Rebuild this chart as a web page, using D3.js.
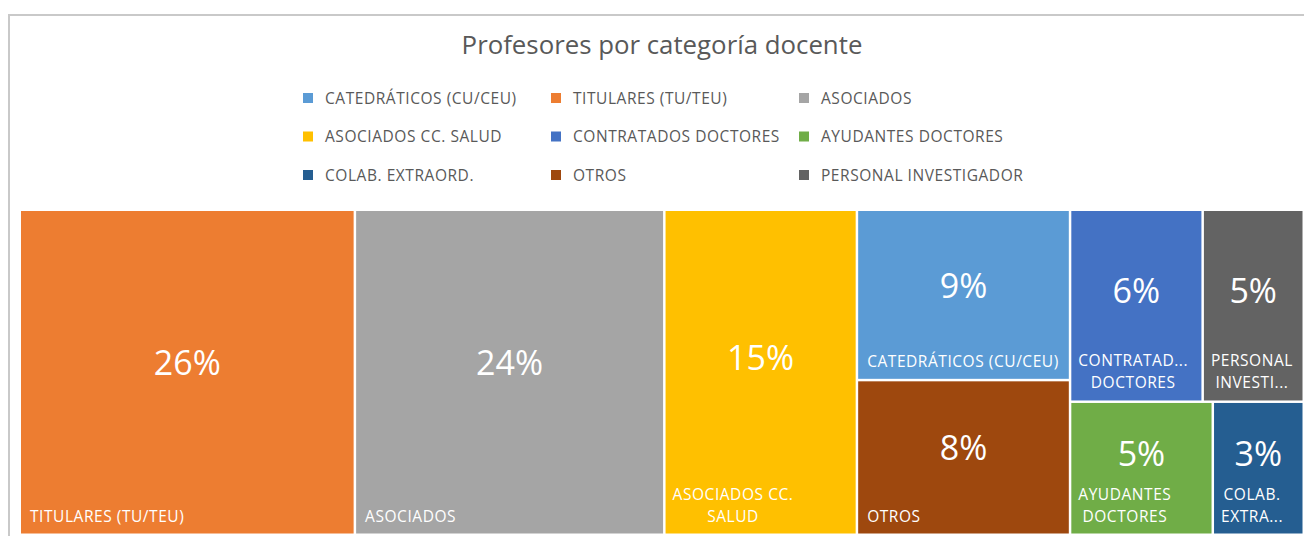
<!DOCTYPE html>
<html>
<head>
<meta charset="utf-8">
<script src="https://cdn.jsdelivr.net/npm/d3@7"></script>
<style>
  body { margin: 0; background: #fff; }
  svg { display: block; font-family: "Open Sans", "Noto Sans", sans-serif; }
</style>
</head>
<body>
<div id="chart"></div>
<script>
// categories in legend order
var categories = ["CATEDRÁTICOS (CU/CEU)", "TITULARES (TU/TEU)", "ASOCIADOS",
  "ASOCIADOS CC. SALUD", "CONTRATADOS DOCTORES", "AYUDANTES DOCTORES",
  "COLAB. EXTRAORD.", "OTROS", "PERSONAL INVESTIGADOR"];
// share of teachers (%)
var shares = [8.7, 26.1, 24.1, 15.0, 6.1, 4.55, 2.9, 7.9, 4.65];
var colors = ["#5B9BD5", "#ED7D31", "#A5A5A5", "#FFC000", "#4472C4",
  "#70AD47", "#255E91", "#9E480E", "#636363"];

var width = 1304;
var height = 536;

var svg = d3.select("#chart")
    .append("svg")
    .attr("width", width)
    .attr("height", height);

// chart area border (only top / left visible)
svg.append("rect")
    .attr("x", 9)
    .attr("y", 15)
    .attr("width", width + 20)
    .attr("height", height + 20)
    .attr("fill", "none")
    .attr("stroke", "#c9c9c9")
    .attr("stroke-width", 2);

svg.append("text")
    .attr("x", 662)
    .attr("y", 54)
    .attr("text-anchor", "middle")
    .attr("fill", "#595959")
    .style("font-size", "25.8px")
    .text("Profesores por categoría docente");

var labelSize = 15.5;
var spacing = "0.55px";

// legend, 3 columns
var legend = svg.append("g").attr("class", "legend");
categories.forEach(function(c, i) {
  var col = i % 3, row = Math.floor(i / 3);
  var g = legend.append("g")
      .attr("transform", `translate(${303 + col * 248}, ${98 + row * 38.5})`);
  g.append("rect")
      .attr("x", 0).attr("y", -5)
      .attr("width", 10).attr("height", 10)
      .attr("fill", colors[i]);
  g.append("text")
      .attr("x", 22)
      .attr("dy", "0.36em")
      .attr("fill", "#595959")
      .style("font-size", labelSize + "px")
      .style("letter-spacing", spacing)
      .text(c);
});

// treemap
var data = {
  name: "root",
  children: categories.map(function(c, i) {
    return {name: c, value: shares[i], color: colors[i]};
  })
};

var root = d3.hierarchy(data)
    .sum(function(d) { return d.value || 0; })
    .sort(function(a, b) { return b.value - a.value; });

var tx = 21, ty = 211;
d3.treemap()
    .tile(d3.treemapSquarify.ratio(1))
    .size([1281.5, 322.5])
    .paddingInner(2.5)
    (root);

var total = root.value;

var cell = svg.append("g").attr("class", "cells")
    .attr("transform", `translate(${tx}, ${ty})`)
  .selectAll("g")
  .data(root.leaves())
  .join("g");

cell.append("rect")
    .attr("x", function(d) { return d.x0; })
    .attr("y", function(d) { return d.y0; })
    .attr("width", function(d) { return d.x1 - d.x0; })
    .attr("height", function(d) { return d.y1 - d.y0; })
    .attr("fill", function(d) { return d.data.color; });

var lineGap = 22;

cell.each(function(d) {
  var g = d3.select(this);
  var avail = d.x1 - d.x0 - 16;

  // measure helper
  var probe = g.append("text").style("font-size", labelSize + "px")
      .style("letter-spacing", spacing);
  function w(s) { probe.text(s); return probe.node().getComputedTextLength(); }
  function clip(s) {
    if (w(s) <= avail) return s;
    while (s.length > 1 && w(s + "...") > avail) s = s.slice(0, -1);
    return s + "...";
  }

  var lines = [];
  var words = d.data.name.split(" ");
  if (w(d.data.name) <= avail) {
    lines = [d.data.name];
  } else {
    var cur = "";
    words.forEach(function(word) {
      var t = cur ? cur + " " + word : word;
      if (cur && w(t) > avail) { lines.push(cur); cur = word; }
      else cur = t;
    });
    if (cur) lines.push(cur);
    if (lines.length > 2) lines = [lines[0], lines.slice(1).join(" ")];
    lines = lines.map(clip);
  }
  var blockW = d3.max(lines, w);
  probe.remove();

  var lastBase = d.y1 - 12;
  var cx = lines.length > 1 ? d.x0 + 7 + blockW / 2 : d.x0 + 9;
  lines.forEach(function(l, i) {
    g.append("text")
        .attr("x", cx)
        .attr("y", lastBase - (lines.length - 1 - i) * lineGap)
        .attr("text-anchor", lines.length > 1 ? "middle" : "start")
        .attr("fill", "#fff")
        .style("font-size", labelSize + "px")
        .style("letter-spacing", spacing)
        .text(l);
  });

  var nameTop = lastBase - (lines.length - 1) * lineGap - 12;
  var vy = ((d.y0 + nameTop) / 2 + (d.y0 + d.y1) / 2) / 2 - 3;
  g.append("text")
      .attr("x", (d.x0 + d.x1) / 2)
      .attr("y", vy)
      .attr("dy", "0.35em")
      .attr("text-anchor", "middle")
      .attr("fill", "#fff")
      .style("font-size", "34px")
      .text(d3.format(".0f")(d.value / total * 100) + "%");
});
</script>
</body>
</html>
